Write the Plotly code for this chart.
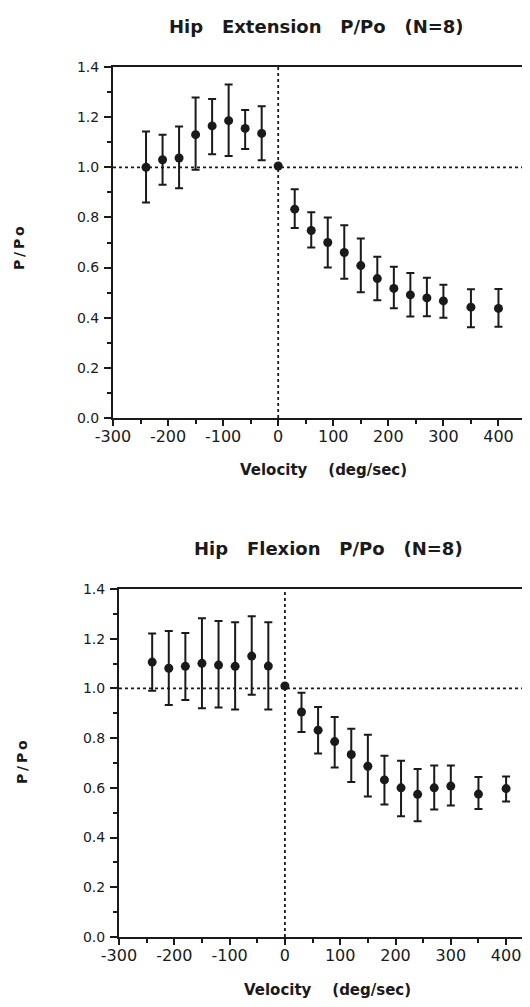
import plotly.graph_objects as go

# velocities (deg/sec)
velocity = [-240, -210, -180, -150, -120, -90, -60, -30, 0,
            30, 60, 90, 120, 150, 180, 210, 240, 270, 300, 350, 400]

# Hip extension P/Po: mean, upper and lower error-bar ends
ext_mean = [1.00, 1.03, 1.037, 1.13, 1.165, 1.186, 1.155, 1.135, 1.005,
            0.833, 0.748, 0.70, 0.66, 0.608, 0.556, 0.517, 0.491, 0.479, 0.467, 0.442, 0.437]
ext_hi = [1.143, 1.13, 1.163, 1.278, 1.272, 1.33, 1.228, 1.243, 1.005,
          0.912, 0.821, 0.80, 0.769, 0.716, 0.643, 0.603, 0.578, 0.559, 0.531, 0.514, 0.515]
ext_lo = [0.86, 0.93, 0.916, 0.99, 1.052, 1.045, 1.073, 1.028, 1.005,
          0.758, 0.68, 0.60, 0.555, 0.502, 0.47, 0.438, 0.405, 0.406, 0.40, 0.362, 0.364]

# Hip flexion P/Po
flx_mean = [1.106, 1.081, 1.089, 1.101, 1.094, 1.089, 1.13, 1.09, 1.01,
            0.905, 0.832, 0.786, 0.734, 0.687, 0.632, 0.60, 0.574, 0.60, 0.607, 0.575, 0.597]
flx_hi = [1.221, 1.231, 1.223, 1.282, 1.271, 1.266, 1.29, 1.266, 1.01,
          0.983, 0.925, 0.885, 0.838, 0.814, 0.729, 0.709, 0.676, 0.69, 0.69, 0.644, 0.646]
flx_lo = [0.991, 0.933, 0.953, 0.92, 0.923, 0.915, 0.975, 0.915, 1.01,
          0.825, 0.738, 0.682, 0.624, 0.565, 0.533, 0.486, 0.466, 0.513, 0.529, 0.515, 0.545]

titles = ["Hip\u00a0\u00a0 Extension\u00a0\u00a0 P/Po\u00a0\u00a0 (N=8)",
          "Hip\u00a0\u00a0 Flexion\u00a0\u00a0 P/Po\u00a0\u00a0 (N=8)"]
x_title = "Velocity\u00a0\u00a0\u00a0 (deg/sec)"
y_title = "P\u2009/\u2009P\u2009o"
x_ticks = [-300, -200, -100, 0, 100, 200, 300, 400]
y_ticks = [0.0, 0.2, 0.4, 0.6, 0.8, 1.0, 1.2, 1.4]

W, H = 522, 999
OFF = 8  # page body margin
FONT = "DejaVu Sans"
INK = "#1a1a1a"


def px(x):
    return (x - OFF) / W


def py(y):
    return 1 - (y - OFF) / H


fig = go.Figure()


def add_series(mean, hi, lo, xa, ya):
    plus = [h - m for h, m in zip(hi, mean)]
    minus = [m - l for m, l in zip(mean, lo)]
    fig.add_trace(go.Scatter(
        x=velocity, y=mean, mode="markers", xaxis=xa, yaxis=ya,
        marker=dict(color=INK, size=9),
        error_y=dict(type="data", symmetric=False, array=plus, arrayminus=minus,
                     color=INK, thickness=2, width=4),
        showlegend=False, cliponaxis=False))


add_series(ext_mean, ext_hi, ext_lo, "x", "y")
add_series(flx_mean, flx_hi, flx_lo, "x2", "y2")


def xaxis(domain, anchor, rng):
    return dict(domain=domain, anchor=anchor, range=rng, tickvals=x_ticks,
                ticktext=[str(v) for v in x_ticks], automargin=False,
                showline=True, linecolor=INK, linewidth=2, mirror=True,
                ticks="outside", ticklen=6, tickwidth=2, tickcolor=INK,
                ticklabelstandoff=-3,
                minor=dict(ticks="outside", dtick=50, tick0=0, ticklen=4, tickwidth=1.5, tickcolor=INK),
                showgrid=False, zeroline=False,
                tickfont=dict(family=FONT, size=16, color=INK))


def yaxis(domain, anchor):
    return dict(domain=domain, anchor=anchor, range=[0, 1.4], tickvals=y_ticks,
                ticktext=[f"{v:.1f}" for v in y_ticks], automargin=False,
                showline=True, linecolor=INK, linewidth=2, mirror=True,
                ticks="outside", ticklen=7, tickwidth=2, tickcolor=INK,
                ticklabelstandoff=2,
                minor=dict(ticks="outside", dtick=0.1, tick0=0, ticklen=4, tickwidth=1.5, tickcolor=INK),
                showgrid=False, zeroline=False,
                tickfont=dict(family=FONT, size=14, color=INK))


fig.update_layout(
    template="none",
    width=W, height=H, autosize=False,
    margin=dict(l=0, r=0, t=0, b=0, pad=0, autoexpand=False),
    paper_bgcolor="white", plot_bgcolor="white",
    xaxis=xaxis([px(113), px(526)], "y", [-300, 450]),
    yaxis=yaxis([py(418), py(67)], "x"),
    xaxis2=xaxis([px(119), 1.0], "y2", [-300, 745 * (W + OFF - 119) / 412 - 300]),
    yaxis2=yaxis([py(937), py(589)], "x2"),
)

# dotted reference lines at x = 0 and P/Po = 1.0
for xr, yr in (("x", "y"), ("x2", "y2")):
    fig.add_shape(type="line", xref=xr, yref=f"{yr} domain", x0=0, x1=0, y0=0, y1=1,
                  line=dict(color=INK, width=1.8, dash="dot"))
    fig.add_shape(type="line", xref=f"{xr} domain", yref=yr, x0=0, x1=1, y0=1.0, y1=1.0,
                  line=dict(color=INK, width=1.8, dash="dot"))

ann = []
for text, cx, cy in ((titles[0], 316, 26), (titles[1], 328, 548)):
    ann.append(dict(text=f"<b>{text}</b>", x=px(cx), y=py(cy), xref="paper", yref="paper",
                    showarrow=False, xanchor="center", yanchor="middle",
                    font=dict(family=FONT, size=18, color=INK)))
for cx, cy in ((323, 470), (327, 990)):
    ann.append(dict(text=f"<b>{x_title}</b>", x=px(cx), y=py(cy), xref="paper", yref="paper",
                    showarrow=False, xanchor="center", yanchor="middle",
                    font=dict(family=FONT, size=15, color=INK)))
for cx, cy in ((19, 248), (22, 762)):
    ann.append(dict(text=f"<b>{y_title}</b>", x=px(cx), y=py(cy), xref="paper", yref="paper",
                    showarrow=False, xanchor="center", yanchor="middle", textangle=-90,
                    font=dict(family=FONT, size=14, color=INK)))
fig.update_layout(annotations=ann)

fig.write_html("out.html")
